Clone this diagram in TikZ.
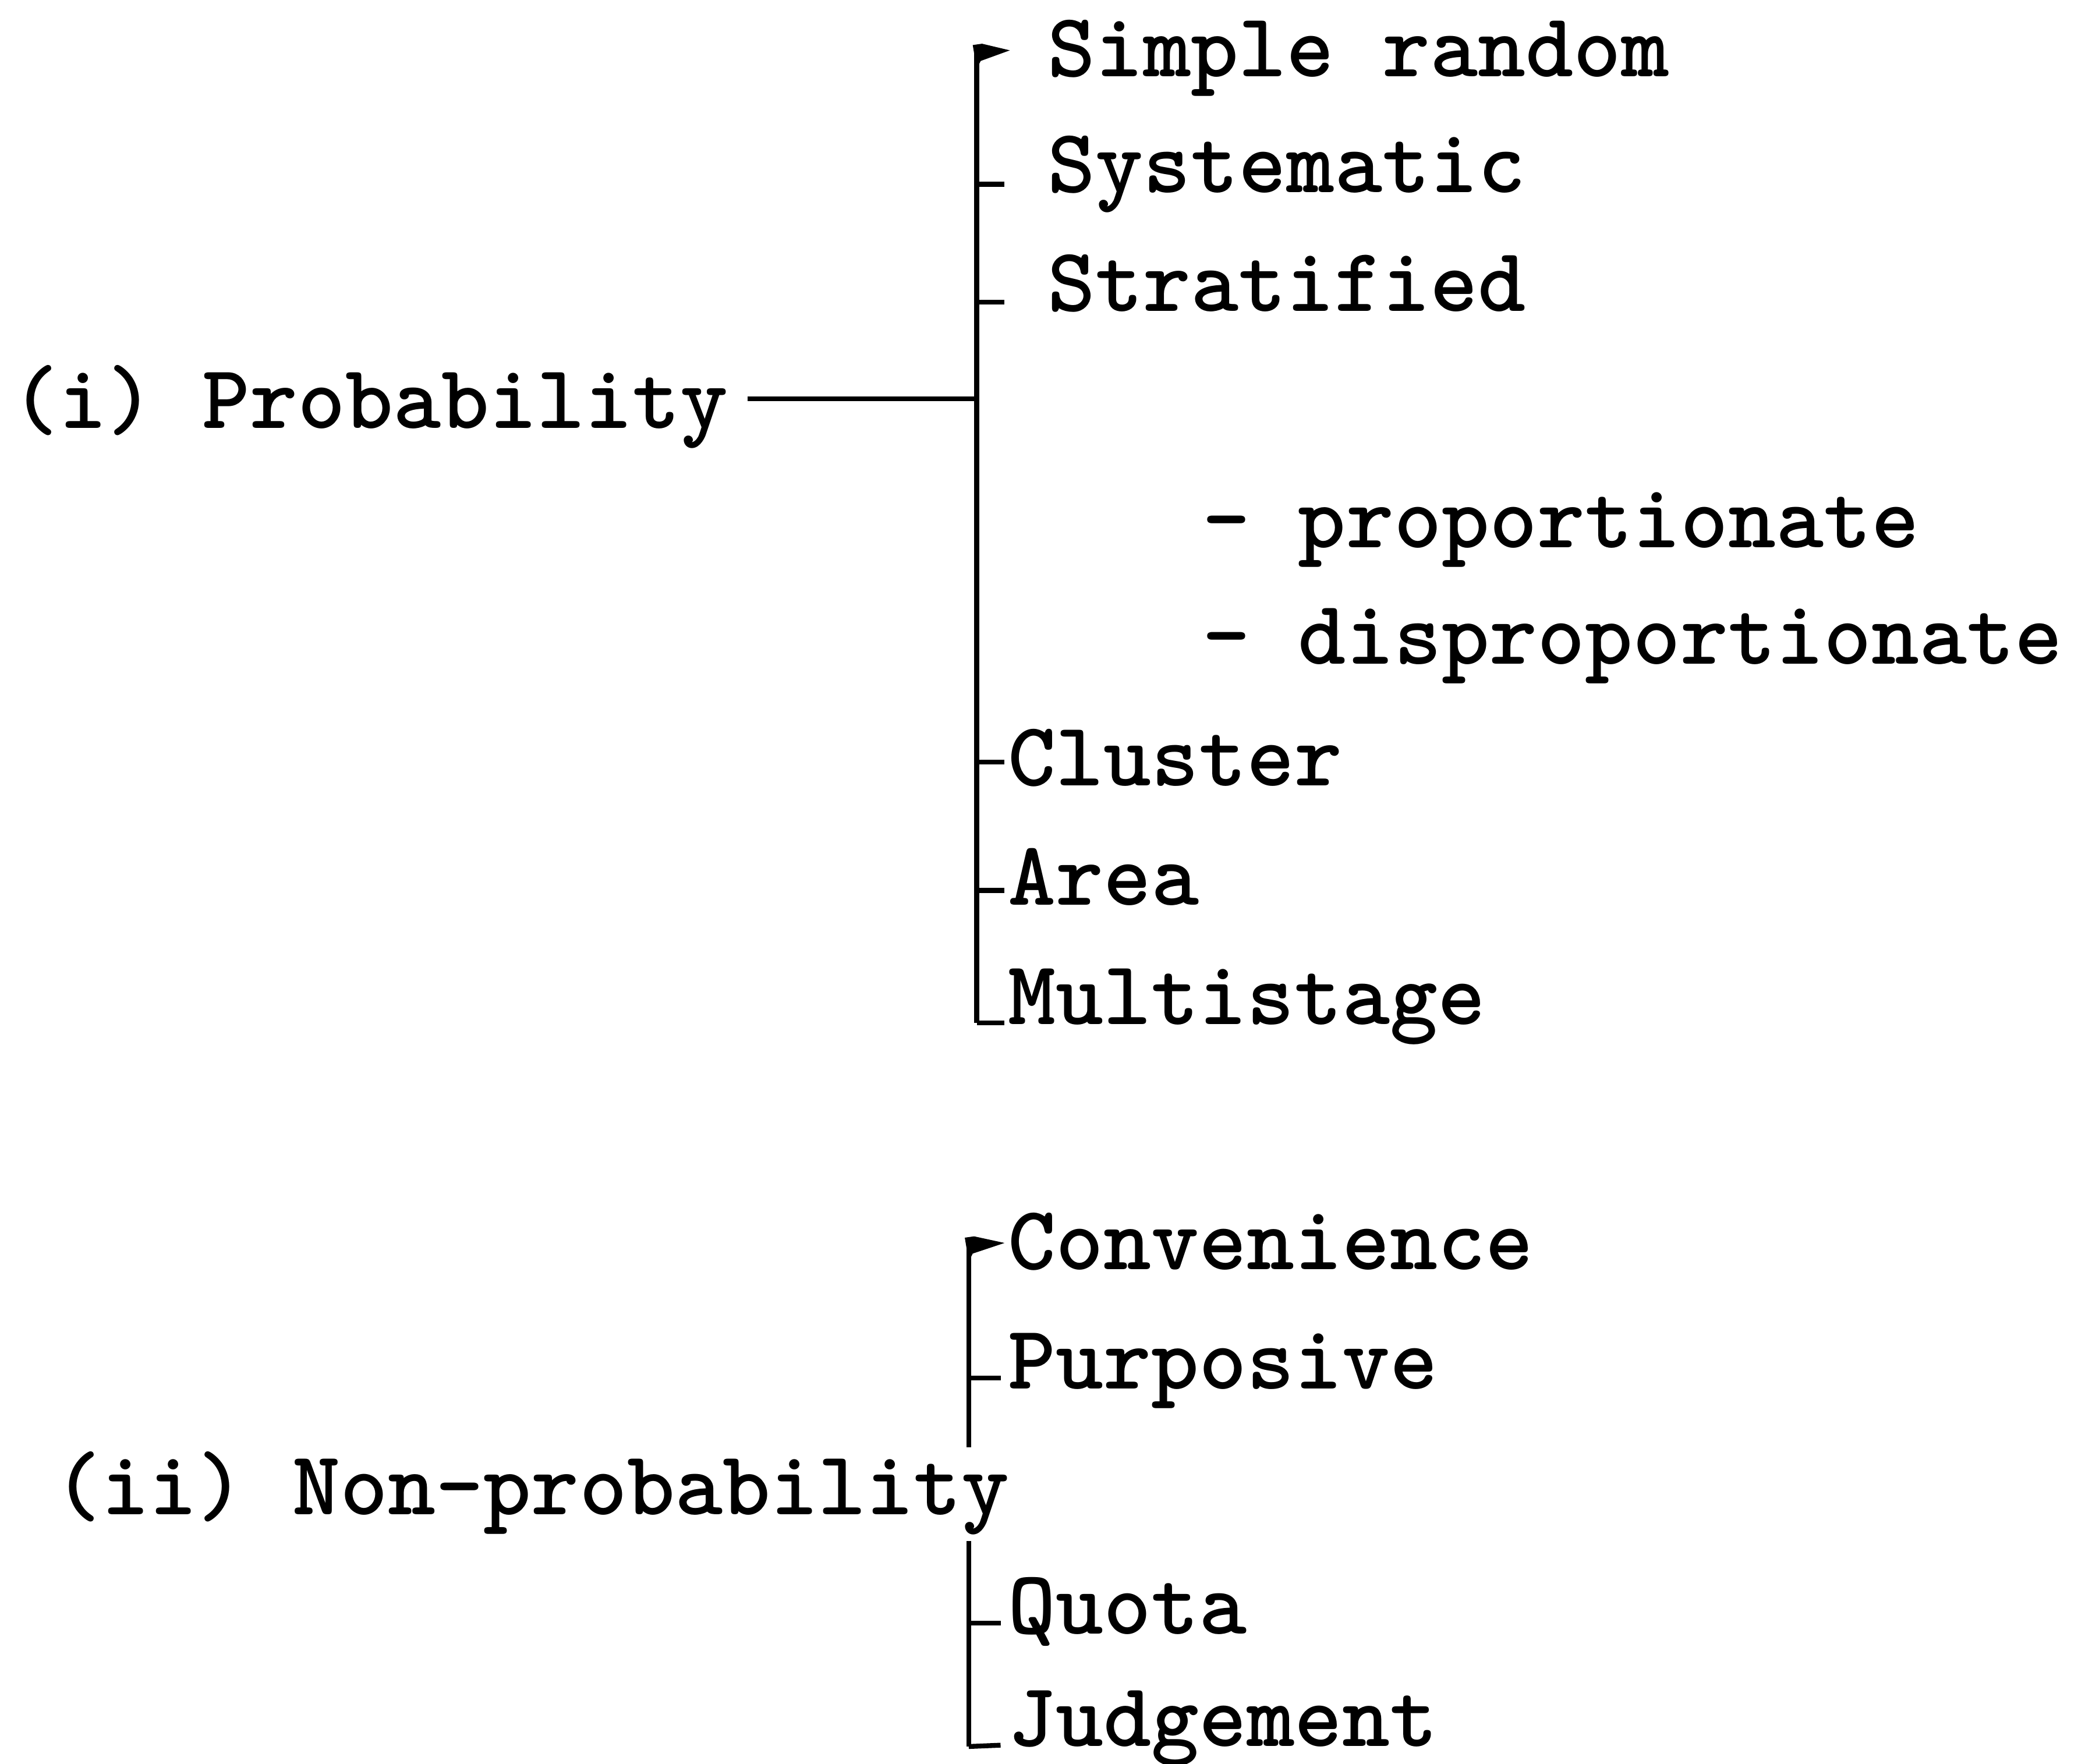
\documentclass[tikz,border=0pt]{standalone}
\usetikzlibrary{calc}
\begin{document}
\begin{tikzpicture}[x=0.3pt,y=-0.3pt,
  lbl/.style={anchor=base west, inner sep=0pt, font=\ttfamily\bfseries\fontsize{20.6pt}{22pt}\selectfont},
  ln/.style={line width=1.1pt, line cap=butt},
  flag/.style={fill=black}]
\useasboundingbox (0,0) rectangle (1568,1331);
% ---- probability branch
\node[lbl] (prob) at (8,323) {(i) Probability};
\node[lbl] (sr)   at (790,58)  {Simple random};
\node[lbl] (sys)  at (790,145) {Systematic};
\node[lbl] (str)  at (790,235) {Stratified};
\node[lbl] (prop) at (907,413) {- proportionate};
\node[lbl] (disp) at (907,501) {- disproportionate};
\node[lbl] (clu)  at (760,593) {Cluster};
\node[lbl] (area) at (760,683) {Area};
\node[lbl] (mult) at (760,773) {Multistage};
% spine
\coordinate (pt) at (737,34);
\coordinate (pb) at (737,772);
\coordinate (pj) at (737,301);
\draw[ln] (pt) -- (pb);
\draw[ln] ($(prob.base east)+(14,-22)$) -- (pj);
\fill[flag] ($(pt)+(-3,0)$) -- ($(pt)+(4,-1)$) -- ($(sr.base west)+(-28,-20)$) -- ($(pt)+(3,12)$) -- ($(pt)+(0,18)$) -- cycle;
\draw[ln] ($(sys.base west)+(-53,-6)$) -- ($(sys.base west)+(-32,-6)$);
\draw[ln] ($(str.base west)+(-53,-7)$) -- ($(str.base west)+(-32,-7)$);
\draw[ln] ($(clu.base west)+(-23,-18)$) -- ($(clu.base west)+(-2,-18)$);
\draw[ln] ($(area.base west)+(-23,-11)$) -- ($(area.base west)+(-2,-11)$);
\draw[ln] (pb) -- ($(mult.base west)+(-2,-1)$);
% ---- non-probability branch
\node[lbl] (nonp) at (40,1143) {(ii) Non-probability};
\node[lbl] (conv) at (760,958)  {Convenience};
\node[lbl] (purp) at (760,1048) {Purposive};
\node[lbl] (quo)  at (760,1233) {Quota};
\node[lbl] (jud)  at (760,1318) {Judgement};
\coordinate (ut) at (731,934);
\coordinate (ub) at (731,1092);
\coordinate (lt) at (731,1163);
\coordinate (lb) at (731,1318);
\draw[ln] (ut) -- (ub);
\draw[ln] (lt) -- (lb);
\fill[flag] ($(ut)+(-3,0)$) -- ($(ut)+(4,-1)$) -- ($(conv.base west)+(-2,-20)$) -- ($(ut)+(3,12)$) -- ($(ut)+(0,18)$) -- cycle;
\draw[ln] ($(purp.base west)+(-29,-8)$) -- ($(purp.base west)+(-5,-8)$);
\draw[ln] ($(quo.base west)+(-29,-8)$) -- ($(quo.base west)+(-5,-8)$);
\draw[ln] (lb) -- ($(jud.base west)+(-5,-1)$);
\end{tikzpicture}
\end{document}
